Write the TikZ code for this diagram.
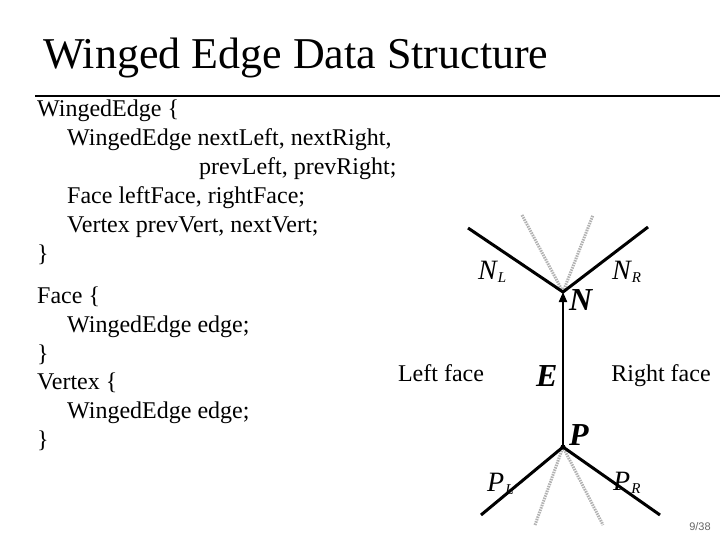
\documentclass[tikz,border=0pt]{standalone}
\usepackage{fontspec}
\setmainfont{Liberation Serif}
\newfontfamily\pagefont{Liberation Sans}
\usetikzlibrary{arrows.meta,positioning}
\newcommand{\wsub}[1]{\kern1bp\raisebox{-3bp}{\fontsize{15bp}{15bp}\selectfont #1}}
\tikzset{
  code/.style  ={anchor=base west, inner sep=0pt,
                 font=\fontsize{24bp}{29bp}\selectfont},
  wing/.style  ={line width=3bp, black},
  ghost/.style ={line width=3bp, gray!60, dash pattern=on 1.5bp off 1bp},
  edg/.style   ={line width=2bp, -{Triangle[length=10bp,width=8bp]}},
  lbl/.style   ={anchor=base west, inner sep=0pt,
                 font=\fontsize{28bp}{30bp}\selectfont\itshape},
  blbl/.style  ={anchor=base west, inner sep=0pt,
                 font=\fontsize{32bp}{34bp}\selectfont\bfseries\itshape}
}

\begin{document}
\begin{tikzpicture}[x=1bp,y=-1bp]
\useasboundingbox (0,0) rectangle (720,540);

% title and rule
\node[anchor=base west, inner sep=0pt, font=\fontsize{44bp}{48bp}\selectfont]
      (title) at (43,69) {Winged Edge Data Structure};
\draw[line width=1.5bp] (35,96) -- (720,96);

% structure declarations
\node[code] (s1) at (37,117)  {WingedEdge \{};
\node[code] (s2) at (67,146)  {WingedEdge nextLeft, nextRight,};
\node[code] (s3) at (199,175) {prevLeft, prevRight;};
\node[code] (s4) at (67,204)  {Face leftFace, rightFace;};
\node[code] (s5) at (67,233)  {Vertex prevVert, nextVert;};
\node[code] (s6) at (37,262)  {\}};
\node[code] (f1) at (37,303)  {Face \{};
\node[code] (f2) at (67,332)  {WingedEdge edge;};
\node[code] (f3) at (37,361)  {\}};
\node[code] (f4) at (37,389)  {Vertex \{};
\node[code] (f5) at (67,418)  {WingedEdge edge;};
\node[code] (f6) at (37,447)  {\}};

% vertices and wing ends
\coordinate (N)   at (563,292);
\coordinate (P)   at (563,447);
\coordinate (nl)  at (468,228);
\coordinate (nr)  at (648,227);
\coordinate (pl)  at (481,515);
\coordinate (pr)  at (660,515);
\coordinate (ngl) at (522,215);
\coordinate (ngr) at (593,215);
\coordinate (pgl) at (535,525);
\coordinate (pgr) at (603,525);

\draw[ghost] (ngl) -- (N) -- (ngr);
\draw[ghost] (pgl) -- (P) -- (pgr);
\draw[wing] (nl) -- (N) -- (nr);
\draw[wing] (pl) -- (P) -- (pr);
\draw[edg] (P) -- (N);
\fill (P) circle (2.5bp);

% labels
\node[lbl]  (NL)   at (478,280) {N\wsub{L}};
\node[lbl]  (NR)   at (612,280) {N\wsub{R}};
\node[blbl] (Nlab) at ([shift={(6,18)}]N) {N};
\node[blbl] (Elab) at (536,386) {E};
\node[blbl] (Plab) at ([shift={(6,-2)}]P) {P};
\node[lbl]  (PL)   at (487,491) {P\wsub{L}};
\node[lbl]  (PR)   at (613,490) {P\wsub{R}};
\node[code, anchor=base] (lf) at (441,381) {Left face};
\node[code, anchor=base] (rf) at (661,381) {Right face};

\node[inner sep=0pt, font=\pagefont\fontsize{11bp}{12bp}\selectfont,
      text=gray!80!black] (page) at (700,527) {9/38};
\end{tikzpicture}
\end{document}
